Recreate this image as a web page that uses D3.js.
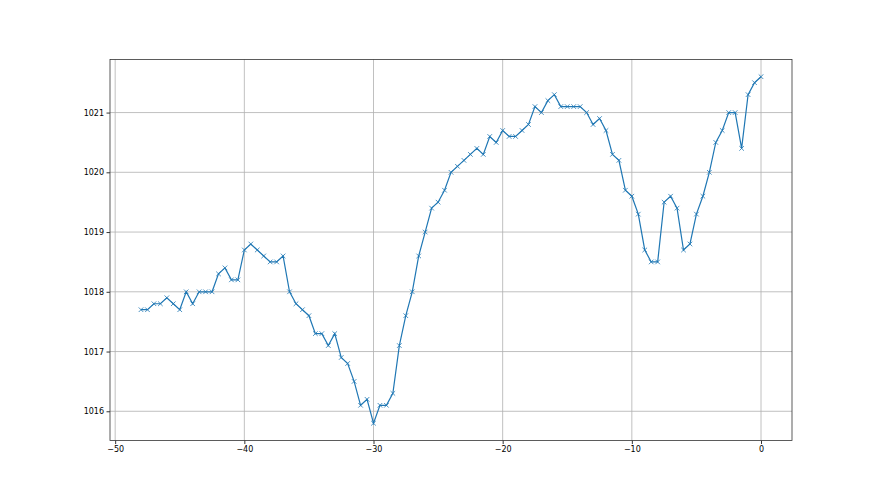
<!DOCTYPE html>
<meta charset="utf-8">
<html>
  <head>
  <title>Pressure</title>
    <style>
      body { margin: 0; background: #fff; }
      svg text { font-family: 'DejaVu Sans', sans-serif; font-size: 8px; fill: #000; }
    </style>
  </head>
  <body>
<div id="svgCanvas"></div>

<script src="https://cdn.jsdelivr.net/npm/d3@7"></script>
<script>

// hours (x) and pressure readings (y)
var hours = d3.range(-48, 0.01, 0.5)

var pressure = [
  1017.7, 1017.7, 1017.8, 1017.8, 1017.9, 1017.8, 1017.7, 1018.0, 1017.8, 1018.0,
  1018.0, 1018.0, 1018.3, 1018.4, 1018.2, 1018.2, 1018.7, 1018.8, 1018.7, 1018.6,
  1018.5, 1018.5, 1018.6, 1018.0, 1017.8, 1017.7, 1017.6, 1017.3, 1017.3, 1017.1,
  1017.3, 1016.9, 1016.8, 1016.5, 1016.1, 1016.2, 1015.8, 1016.1, 1016.1, 1016.3,
  1017.1, 1017.6, 1018.0, 1018.6, 1019.0, 1019.4, 1019.5, 1019.7, 1020.0, 1020.1,
  1020.2, 1020.3, 1020.4, 1020.3, 1020.6, 1020.5, 1020.7, 1020.6, 1020.6, 1020.7,
  1020.8, 1021.1, 1021.0, 1021.2, 1021.3, 1021.1, 1021.1, 1021.1, 1021.1, 1021.0,
  1020.8, 1020.9, 1020.7, 1020.3, 1020.2, 1019.7, 1019.6, 1019.3, 1018.7, 1018.5,
  1018.5, 1019.5, 1019.6, 1019.4, 1018.7, 1018.8, 1019.3, 1019.6, 1020.0, 1020.5,
  1020.7, 1021.0, 1021.0, 1020.4, 1021.3, 1021.5, 1021.6
]

var xTicks = [-50, -40, -30, -20, -10, 0]
var yTicks = [1016, 1017, 1018, 1019, 1020, 1021]

var data = hours.map(function(h, i) { return {x: h, y: pressure[i]}; })

var width = 880;
var height = 495;
var margin = {left: 110, right: 88, top: 59.4, bottom: 54.45};

var svg = d3.select("#svgCanvas")
    .append("svg")
      .attr("width", width)
      .attr("height", height);

// matplotlib style 5% padding
var xmin = d3.min(hours), xmax = d3.max(hours);
var ymin = d3.min(pressure), ymax = d3.max(pressure);
var xpad = (xmax - xmin) * 0.05, ypad = (ymax - ymin) * 0.05;

var x = d3.scaleLinear()
    .domain([xmin - xpad, xmax + xpad])
    .range([margin.left, width - margin.right]);

var y = d3.scaleLinear()
    .domain([ymin - ypad, ymax + ypad])
    .range([height - margin.bottom, margin.top]);

// grid
svg.append("g").selectAll("line.vg")
  .data(xTicks).enter()
  .append("line")
    .attr("x1", function(d) { return x(d); })
    .attr("x2", function(d) { return x(d); })
    .attr("y1", margin.top)
    .attr("y2", height - margin.bottom)
    .style("stroke", "#b0b0b0")
    .style("stroke-width", 0.8);

svg.append("g").selectAll("line.hg")
  .data(yTicks).enter()
  .append("line")
    .attr("y1", function(d) { return y(d); })
    .attr("y2", function(d) { return y(d); })
    .attr("x1", margin.left)
    .attr("x2", width - margin.right)
    .style("stroke", "#b0b0b0")
    .style("stroke-width", 0.8);

// axes
var xAxis = d3.axisBottom(x).tickValues(xTicks).tickSize(3.5).tickPadding(2.5)
    .tickFormat(function(d) { return d < 0 ? "\u2212" + Math.abs(d) : d; });
var yAxis = d3.axisLeft(y).tickValues(yTicks).tickSize(3.5).tickPadding(2.5)
    .tickFormat(d3.format("d"));

var gx = svg.append("g")
    .attr("transform", "translate(0," + (height - margin.bottom) + ")")
    .call(xAxis);
var gy = svg.append("g")
    .attr("transform", "translate(" + margin.left + ",0)")
    .call(yAxis);

[gx, gy].forEach(function(g) {
  g.select(".domain").remove();
  g.selectAll("line").style("stroke", "#000").style("stroke-width", 0.8);
  g.selectAll("text").style("font-family", "'DejaVu Sans', sans-serif").style("font-size", "8px");
});

// frame
svg.append("rect")
    .attr("x", margin.left)
    .attr("y", margin.top)
    .attr("width", width - margin.left - margin.right)
    .attr("height", height - margin.top - margin.bottom)
    .style("fill", "none")
    .style("stroke", "#333")
    .style("stroke-width", 0.8);

// line
var line = d3.line()
    .x(function(d) { return x(d.x); })
    .y(function(d) { return y(d.y); });

svg.append("path")
    .datum(data)
    .attr("d", line)
    .style("fill", "none")
    .style("stroke", "#1f77b4")
    .style("stroke-width", 1.2);

// x markers
var m = 2.3;
svg.append("g").selectAll("path.mk")
  .data(data).enter()
  .append("path")
    .attr("d", function(d) {
      var cx = x(d.x), cy = y(d.y);
      return "M" + (cx - m) + "," + (cy - m) + "L" + (cx + m) + "," + (cy + m) +
             "M" + (cx - m) + "," + (cy + m) + "L" + (cx + m) + "," + (cy - m);
    })
    .style("stroke", "#1f77b4")
    .style("stroke-width", 0.8);

</script>
  </body>
</html>
